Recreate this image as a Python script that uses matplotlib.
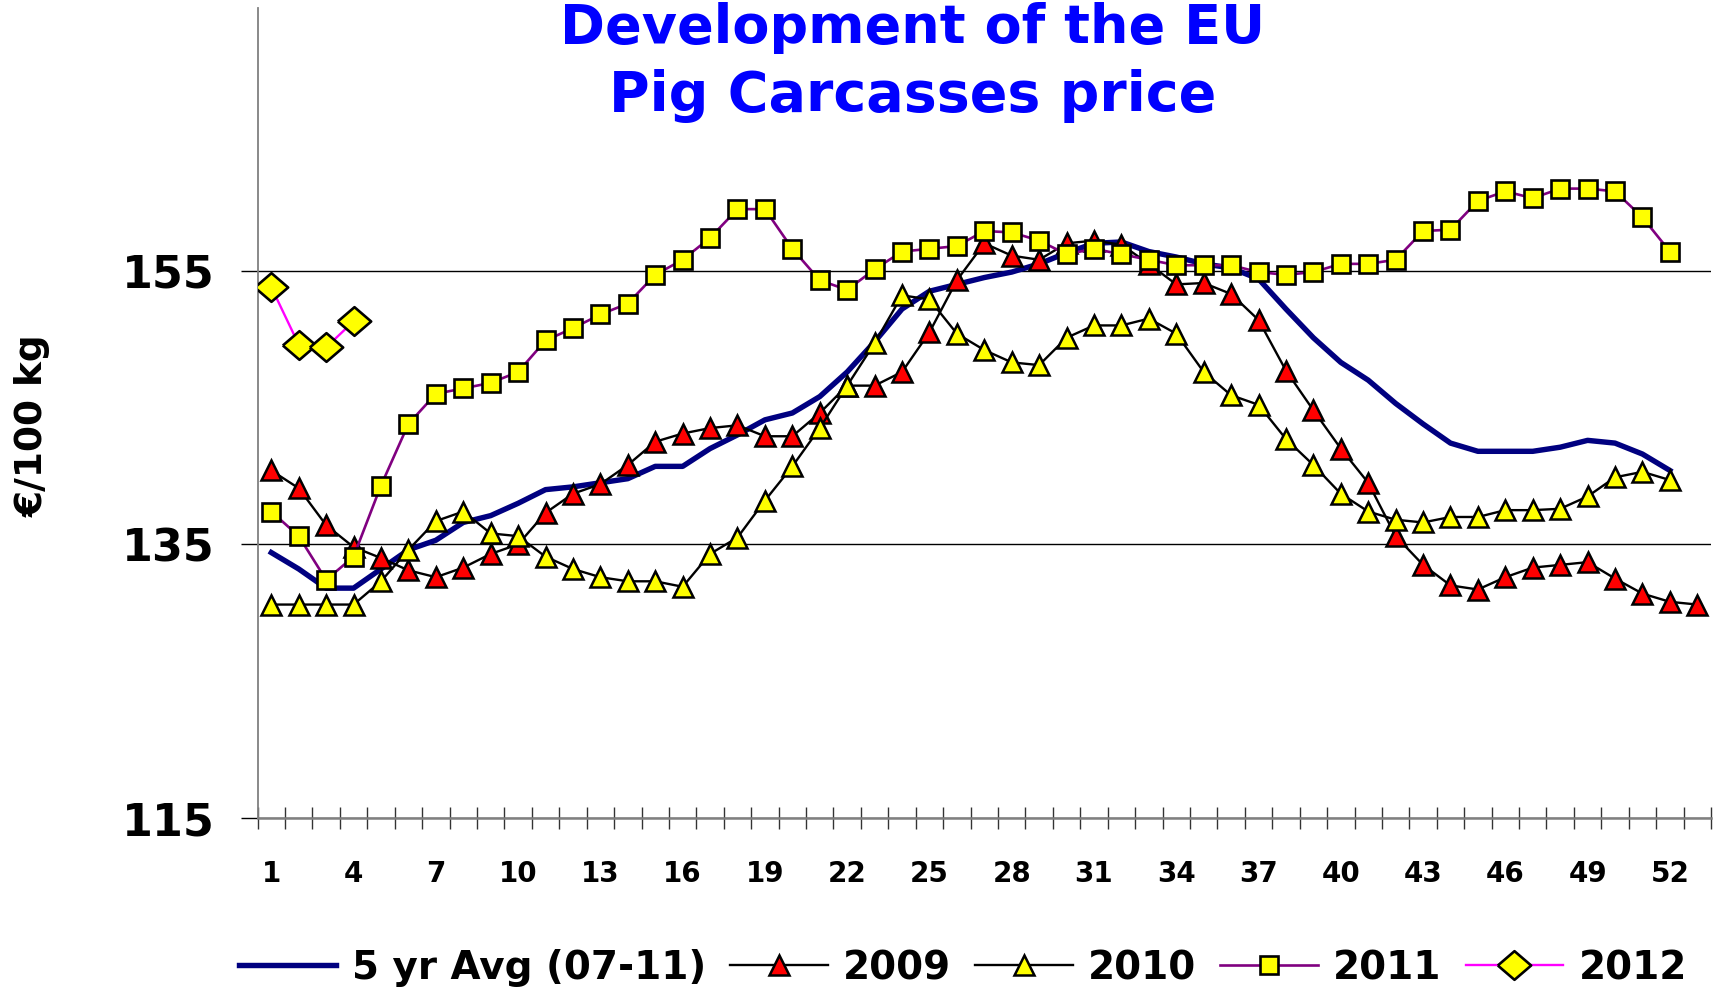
import matplotlib
matplotlib.use('Agg')
import matplotlib.pyplot as plt

# ---------------- data ----------------
weeks_52 = list(range(1, 53))
weeks_53 = list(range(1, 54))
weeks_2012 = [1, 2, 3, 4]

avg_5yr = [134.4, 133.2, 131.8, 131.8, 133.2, 134.6, 135.3, 136.6, 137.1, 138.0,
           139.0, 139.2, 139.5, 139.8, 140.7, 140.7, 142.0, 143.0, 144.1, 144.6,
           145.8, 147.6, 149.8, 152.2, 153.5, 154.0, 154.5, 154.9, 155.5, 156.3,
           157.0, 157.1, 156.4, 156.0, 155.5, 155.2, 154.4, 152.2, 150.1, 148.3,
           147.0, 145.3, 143.8, 142.4, 141.8, 141.8, 141.8, 142.1, 142.6, 142.4,
           141.6, 140.4]

y2009 = [140.4, 139.1, 136.4, 134.8, 134.0, 133.1, 132.6, 133.3, 134.3, 135.0,
         137.3, 138.7, 139.4, 140.8, 142.5, 143.1, 143.5, 143.7, 142.9, 142.9,
         144.6, 146.6, 146.6, 147.6, 150.5, 154.3, 157.0, 156.1, 155.8, 157.0,
         157.2, 156.9, 155.5, 154.0, 154.1, 153.3, 151.4, 147.7, 144.8, 142.0,
         139.5, 135.6, 133.5, 132.0, 131.7, 132.6, 133.3, 133.5, 133.7, 132.5,
         131.4, 130.8, 130.6]

y2010 = [130.6, 130.6, 130.6, 130.6, 132.3, 134.6, 136.7, 137.4, 135.8, 135.6,
         134.1, 133.2, 132.6, 132.3, 132.3, 131.9, 134.3, 135.5, 138.2, 140.7,
         143.5, 146.6, 149.7, 153.2, 152.9, 150.4, 149.2, 148.3, 148.1, 150.1,
         151.0, 151.0, 151.5, 150.4, 147.6, 145.9, 145.2, 142.7, 140.8, 138.7,
         137.4, 136.8, 136.6, 137.0, 137.0, 137.5, 137.5, 137.6, 138.5, 139.9,
         140.3, 139.7]

y2011 = [137.4, 135.6, 132.4, 134.1, 139.3, 143.8, 146.0, 146.4, 146.8, 147.6,
         149.9, 150.8, 151.8, 152.6, 154.7, 155.8, 157.4, 159.5, 159.5, 156.6,
         154.3, 153.6, 155.1, 156.4, 156.6, 156.8, 157.9, 157.8, 157.2, 156.2,
         156.6, 156.2, 155.8, 155.4, 155.4, 155.4, 154.9, 154.7, 154.9, 155.5,
         155.5, 155.8, 157.9, 158.0, 160.1, 160.8, 160.3, 161.0, 161.0, 160.8,
         158.9, 156.4]

y2012 = [153.8, 149.6, 149.4, 151.3]

series_labels = ['5 yr Avg (07-11)', '2009', '2010', '2011', '2012']
xtick_weeks = [1, 4, 7, 10, 13, 16, 19, 22, 25, 28, 31, 34, 37, 40, 43, 46, 49, 52]
xtick_labels = ['1', '4', '7', '10', '13', '16', '19', '22', '25', '28', '31',
                '34', '37', '40', '43', '46', '49', '52']
ytick_values = [115, 135, 155]
ytick_labels = ['115', '135', '155']

title_line1 = 'Development of the EU'
title_line2 = 'Pig Carcasses price'
ylabel = '€/100 kg'

# ---------------- figure ----------------
W, H = 1721, 992
fig = plt.figure(figsize=(W / 100, H / 100), dpi=100)
ax_left, ax_right = 257.6 / W, 1711 / W
ax_bottom, ax_top = 1 - 818 / H, 1 - 8 / H
ax = fig.add_axes([ax_left, ax_bottom, ax_right - ax_left, ax_top - ax_bottom])

ax.set_xlim(0.5, 53.5)
ax.set_ylim(115, 174.2)

# series
diamond = [(-1, 0), (0, 0.86), (1, 0), (0, -0.86), (-1, 0)]
ax.plot(weeks_52, avg_5yr, color='#000080', lw=3.9, zorder=3,
        label=series_labels[0], solid_joinstyle='round')
ax.plot(weeks_53, y2009, color='black', lw=1.7, marker='^', ms=14.5,
        mfc='#FF0000', mec='black', mew=1.8, zorder=4, label=series_labels[1])
ax.plot(weeks_52, y2010, color='black', lw=1.7, marker='^', ms=14.5,
        mfc='#FFFF00', mec='black', mew=1.8, zorder=5, label=series_labels[2])
ax.plot(weeks_52, y2011, color='#800080', lw=1.9, marker='s', ms=12.5,
        mfc='#FFFF00', mec='black', mew=1.9, zorder=6, label=series_labels[3])
ax.plot(weeks_2012, y2012, color='#FF00FF', lw=1.7, marker=diamond, ms=24,
        mfc='#FFFF00', mec='black', mew=1.9, zorder=7, label=series_labels[4])

# spines
for s in ['top', 'right']:
    ax.spines[s].set_visible(False)
ax.spines['left'].set_color('#808080')
ax.spines['left'].set_linewidth(1.3)
ax.spines['bottom'].set_color('#808080')
ax.spines['bottom'].set_linewidth(1.8)

# y axis
ax.set_yticks(ytick_values)
ax.set_yticklabels(ytick_labels, fontsize=32, fontweight='bold')
ax.tick_params(axis='y', direction='out', length=12, width=1, color='black', pad=19)
ax.yaxis.grid(True, color='black', lw=1.0, zorder=1)
ax.set_axisbelow(True)

# x axis: cross ticks at category boundaries, labels at centres
bounds = [w + 0.5 for w in range(0, 54)]
ax.set_xticks(bounds)
ax.set_xticklabels([''] * len(bounds))
ax.tick_params(axis='x', which='major', direction='inout', length=16, width=1,
               color='#333333')
ax.set_xticks(xtick_weeks, minor=True)
ax.set_xticklabels(xtick_labels, minor=True, fontsize=20, fontweight='bold')
ax.tick_params(axis='x', which='minor', length=0, pad=30)

# y label
fig.text(33 / W, 1 - 426 / H, ylabel, rotation=90, fontsize=27, fontweight='bold',
         ha='center', va='center')

# title
fig.text(913 / W, 1 - 43 / H, title_line1, color='#0000FF', fontsize=39,
         fontweight='bold', ha='center', va='baseline')
fig.text(913 / W, 1 - 111 / H, title_line2, color='#0000FF', fontsize=40,
         fontweight='bold', ha='center', va='baseline')

# legend
handles, labels = ax.get_legend_handles_labels()
leg = fig.legend(handles, labels, loc='center', bbox_to_anchor=(963 / W, 1 - 968 / H),
                 ncol=5, frameon=False, prop={'size': 28, 'weight': 'bold'},
                 handlelength=2.5, handletextpad=0.4, columnspacing=0.62,
                 borderpad=0, markerscale=1.0)

fig.savefig('out.png', dpi=100)
